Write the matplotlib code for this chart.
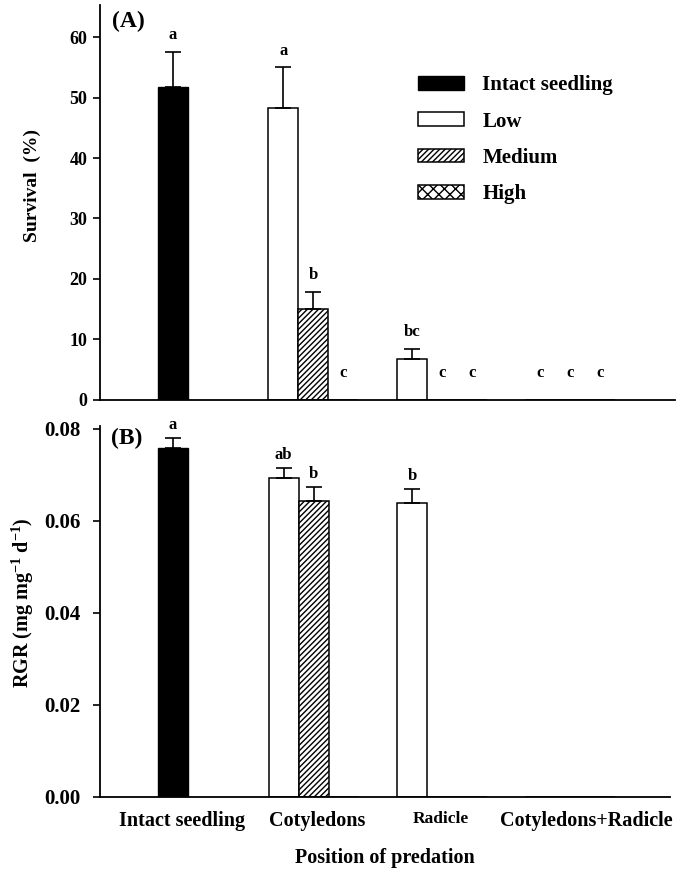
import numpy as np
import matplotlib
matplotlib.use('Agg')
import matplotlib.pyplot as plt

plt.rcParams['font.family'] = ['Liberation Serif', 'DejaVu Serif']
plt.rcParams['font.weight'] = 'bold'
plt.rcParams['axes.labelweight'] = 'bold'
plt.rcParams['mathtext.fontset'] = 'custom'
plt.rcParams['mathtext.rm'] = 'Liberation Serif:bold'
plt.rcParams['mathtext.bf'] = 'Liberation Serif:bold'
plt.rcParams['mathtext.default'] = 'bf'
plt.rcParams['hatch.linewidth'] = 1.0

# data
groups = ['Intact seedling', 'Cotyledons', 'Radicle', 'Cotyledons+Radicle']
series = ['Low', 'Medium', 'High']

# survival (%), intact seedling + Low/Medium/High for Cotyledons, Radicle, Cotyledons+Radicle
surv_intact = 51.7
surv_intact_se = 5.9
surv = {'Low': [48.3, 6.7, 0.0],
        'Medium': [15.0, 0.0, 0.0],
        'High': [0.0, 0.0, 0.0]}
surv_se = {'Low': [6.7, 1.7, 0.0],
           'Medium': [2.9, 0.0, 0.0],
           'High': [0.0, 0.0, 0.0]}
surv_letter_intact = 'a'
surv_letters = {'Low': ['a', 'bc', 'c'],
                'Medium': ['b', 'c', 'c'],
                'High': ['c', 'c', 'c']}

# RGR (mg mg-1 d-1)
rgr_intact = 0.0759
rgr_intact_se = 0.0020
rgr = {'Low': [0.0694, 0.0638, 0.0],
       'Medium': [0.0644, 0.0, 0.0],
       'High': [0.0, 0.0, 0.0]}
rgr_se = {'Low': [0.0020, 0.0031, 0.0],
          'Medium': [0.0029, 0.0, 0.0],
          'High': [0.0, 0.0, 0.0]}
rgr_letter_intact = 'a'
rgr_letters = {'Low': ['ab', 'b', ''],
               'Medium': ['b', '', ''],
               'High': ['', '', '']}

# layout (units of one bar width)
intact_x = 2.43
group_x = np.array([7.12, 11.4, 15.67])
offsets = {'Low': -1.0, 'Medium': 0.0, 'High': 1.0}
label_x = [2.75, 7.25, 11.35, 16.2]
styles = {'Low': dict(color='white', hatch=None),
          'Medium': dict(color='white', hatch='//////'),
          'High': dict(color='white', hatch='xxx')}

fig = plt.figure(figsize=(6.85, 8.71), dpi=100)
axA = fig.add_axes([0.146, 0.5408, 0.839, 0.4535])
axB = fig.add_axes([0.146, 0.0850, 0.832, 0.4259])


def draw(ax, v_int, se_int, let_int, vals, ses, lets, pad, zero_pad):
    handles = []
    h = ax.bar(intact_x, v_int, width=1.0, color='black', edgecolor='black',
               linewidth=1.0, label='Intact seedling')
    handles.append(h)
    ax.errorbar(intact_x, v_int, yerr=[[0], [se_int]], fmt='none', ecolor='black',
                elinewidth=1.2, capsize=6, capthick=1.2)
    ax.annotate(let_int, (intact_x, v_int + se_int), xytext=(0, pad),
                textcoords='offset points', ha='center', va='center', fontsize=12)
    for s in series:
        x = group_x + offsets[s]
        h = ax.bar(x, vals[s], width=1.0, facecolor=styles[s]['color'],
                   edgecolor='black', linewidth=1.1, hatch=styles[s]['hatch'], label=s)
        handles.append(h)
        for xi, v, e, l in zip(x, vals[s], ses[s], lets[s]):
            if e > 0:
                ax.errorbar(xi, v, yerr=[[0], [e]], fmt='none', ecolor='black',
                            elinewidth=1.2, capsize=6, capthick=1.2)
            if l:
                off = pad if v > 0 else zero_pad
                ax.annotate(l, (xi, v + e), xytext=(0, off), textcoords='offset points',
                            ha='center', va='center', fontsize=12)
    return handles


hA = draw(axA, surv_intact, surv_intact_se, surv_letter_intact, surv, surv_se,
          surv_letters, 12, 19.5)
draw(axB, rgr_intact, rgr_intact_se, rgr_letter_intact, rgr, rgr_se,
     rgr_letters, 9.5, 15)

for ax in (axA, axB):
    ax.spines['top'].set_visible(False)
    ax.spines['right'].set_visible(False)
    ax.spines['left'].set_linewidth(1.3)
    ax.spines['bottom'].set_linewidth(1.3)
    ax.tick_params(axis='y', direction='out', length=5, width=1.2)
    ax.tick_params(axis='x', length=0)

axA.set_xlim(0, 19.17)
axA.set_ylim(0, 65.3)
axA.set_yticks(np.arange(0, 61, 10))
axA.tick_params(axis='y', labelsize=13, pad=4)
axA.set_xticks([])
axA.set_ylabel('Survival  (%)', fontsize=14)
axA.yaxis.set_label_coords(-0.103, 0.544)
axA.text(0.02, 0.985, '(A)', transform=axA.transAxes, fontsize=17, va='top', ha='left')

axB.set_xlim(0, 19.0)
axB.set_ylim(0, 0.0806)
axB.set_yticks([0.0, 0.02, 0.04, 0.06, 0.08])
axB.set_yticklabels(['0.00', '0.02', '0.04', '0.06', '0.08'])
axB.tick_params(axis='y', labelsize=15, pad=9)
axB.set_xticks(label_x)
axB.set_xticklabels(groups, fontsize=14.5)
axB.get_xticklabels()[2].set_fontsize(12.5)
axB.tick_params(axis='x', pad=10)
axB.set_ylabel('RGR (mg mg$^{-1}$ d$^{-1}$)', fontsize=14.5)
axB.yaxis.set_label_coords(-0.112, 0.523)
axB.set_xlabel('Position of predation', fontsize=14.5, labelpad=12)
axB.text(0.02, 0.995, '(B)', transform=axB.transAxes, fontsize=17, va='top', ha='left')

axA.legend(handles=hA, loc='upper left', bbox_to_anchor=(0.553, 0.822), frameon=False,
           fontsize=15, handlelength=2.2, handleheight=0.65, handletextpad=0.9,
           labelspacing=0.78, borderpad=0, borderaxespad=0)

fig.savefig('out.png', dpi=100)
